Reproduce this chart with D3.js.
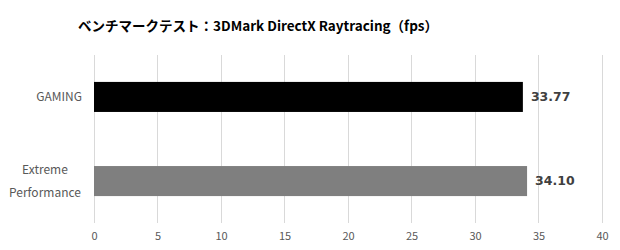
<!DOCTYPE html>
<html lang="ja">
<head>
    <meta charset="UTF-8">
    <title>3DMark DirectX Raytracing</title>
    <script src="https://d3js.org/d3.v7.min.js"></script>
    <style>
        body { margin: 0; background: white; }
        svg { display: block; }
    </style>
</head>
<body>
    <svg></svg>
    <script>
        // Chart data
        var categories = ["GAMING", "Extreme Performance"];
        var labelLines = [["GAMING"], ["Extreme", "Performance"]];
        var values = [33.77, 34.10];
        var barColors = ["#000000", "#7f7f7f"];
        var ticks = [0, 5, 10, 15, 20, 25, 30, 35, 40];
        var title = "ベンチマークテスト：3DMark DirectX Raytracing（fps）";

        var width = 620, height = 250;
        var svg = d3.select("svg").attr("width", width).attr("height", height);

        var margin = {top: 55, right: 18, bottom: 27, left: 94};
        var x = d3.scaleLinear().domain([0, 40]).range([margin.left, width - margin.right]);
        var y = d3.scaleBand().domain(categories)
            .range([margin.top, height - margin.bottom])
            .paddingInner(0.643).paddingOuter(0.32);

        var font = "'Noto Sans CJK JP', 'Noto Sans', sans-serif";

        // Title
        svg.append("text")
            .attr("x", 258).attr("y", 31)
            .attr("text-anchor", "middle")
            .style("font-family", font)
            .style("font-size", "13.5px")
            .style("font-weight", "bold")
            .style("fill", "#000")
            .text(title);

        // Gridlines
        svg.append("g").selectAll("line")
            .data(ticks).enter().append("line")
            .attr("x1", d => x(d)).attr("x2", d => x(d))
            .attr("y1", margin.top).attr("y2", height - margin.bottom)
            .style("stroke", "#d9d9d9").style("stroke-width", 1)
            .attr("shape-rendering", "crispEdges");

        // X axis labels
        var xAxis = d3.axisBottom(x).tickValues(ticks).tickSize(0).tickPadding(0);
        var gx = svg.append("g")
            .attr("transform", "translate(0," + (height - margin.bottom + 9) + ")")
            .call(xAxis);
        gx.select(".domain").remove();
        gx.selectAll("text")
            .style("font-family", font).style("font-size", "11px").style("fill", "#595959");

        // Bars
        svg.append("g").selectAll("rect")
            .data(values).enter().append("rect")
            .attr("x", x(0))
            .attr("y", (d, i) => y(categories[i]))
            .attr("width", d => x(d) - x(0))
            .attr("height", y.bandwidth())
            .style("fill", (d, i) => barColors[i]);

        // Value labels
        svg.append("g").selectAll("text")
            .data(values).enter().append("text")
            .attr("x", d => x(d) + 8)
            .attr("y", (d, i) => y(categories[i]) + y.bandwidth() / 2)
            .attr("dy", "0.35em")
            .style("font-family", "'DejaVu Sans', sans-serif")
            .style("font-size", "12.5px")
            .style("font-weight", "bold")
            .style("fill", "#404040")
            .text(d => d.toFixed(2));

        // Category labels
        var cat = svg.append("g").selectAll("text")
            .data(labelLines).enter().append("text")
            .style("font-family", font)
            .style("font-size", "12px")
            .style("fill", "#595959");
        cat.each(function(lines, i) {
            var cy = y(categories[i]) + y.bandwidth() / 2;
            var t = d3.select(this);
            if (lines.length === 1) {
                t.append("tspan").attr("x", 82).attr("y", cy).attr("dy", "0.35em")
                    .attr("text-anchor", "end").text(lines[0]);
            } else {
                var gap = 23;
                lines.forEach(function(line, j) {
                    t.append("tspan").attr("x", 45)
                        .attr("y", cy + (j - (lines.length - 1) / 2) * gap)
                        .attr("dy", "0.35em")
                        .attr("text-anchor", "middle").text(line);
                });
            }
        });
    </script>
</body>
</html>
